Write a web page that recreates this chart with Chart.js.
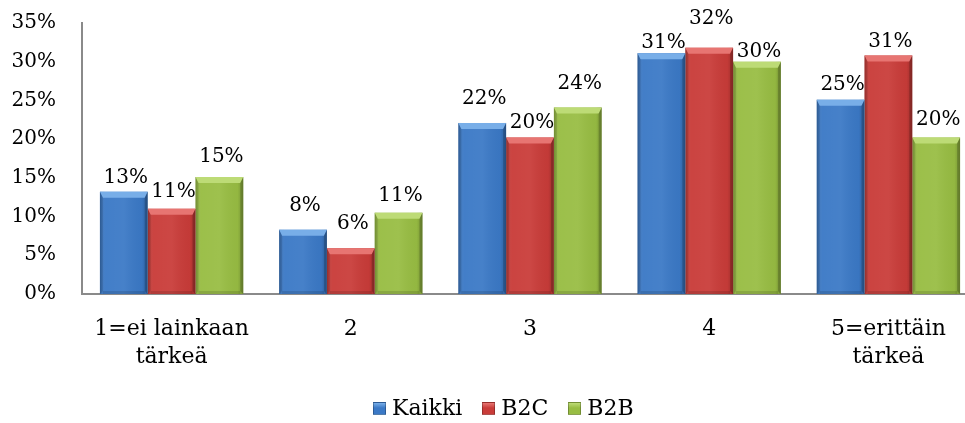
<!DOCTYPE html>
<html>
<head>
<meta charset="utf-8">
<script src="https://cdn.jsdelivr.net/npm/chart.js@4.4.1/dist/chart.umd.min.js"></script>
<style>
  html, body { margin: 0; padding: 0; background: #fff; }
  #wrap { position: relative; width: 965px; height: 423px; overflow: hidden; }
  #chart { position: absolute; left: 0; top: 0; }
  #legend {
    position: absolute; left: 373px; top: 396px;
    display: flex; align-items: center;
    font-family: 'DejaVu Serif', serif; font-size: 22px; line-height: 24px; color: #000;
  }
  #legend .item { display: flex; align-items: center; margin-right: 20px; }
  #legend .box { width: 13px; height: 13px; margin-right: 6px; box-sizing: border-box; }
</style>
</head>
<body>
<div id="wrap">
  <canvas id="chart" width="980" height="423"></canvas>
  <div id="legend"></div>
</div>
<script>
// kategoriat ja arvot (%), luettu kuvasta
const categories = [['1=ei lainkaan', 'tärkeä'], '2', '3', '4', ['5=erittäin', 'tärkeä']];
const seriesNames = ['Kaikki', 'B2C', 'B2B'];
const kaikki = [13.2, 8.3, 22.1, 31.1, 25.1];
const b2c = [11.0, 5.9, 20.2, 31.8, 30.8];
const b2b = [15.1, 10.5, 24.1, 30.0, 20.2];
const yTicks = [0, 5, 10, 15, 20, 25, 30, 35];

const colors = ['#3b79c6', '#c93c39', '#98bd43'];
const topColors = ['#78aee8', '#e77572', '#bddb76'];

// etäisyys palkin yläreunasta tekstin pohjaan (kuten alkuperäisessä)
const labelGaps = [
  [9, 19, 19, 5, 10],
  [12, 19, 10, 24, 9],
  [15, 12, 18, 5, 13]
];

// viistetyt palkit
const bevelBars = {
  id: 'bevelBars',
  afterDatasetDraw(chart, args) {
    const ctx = chart.ctx;
    const di = args.index;
    args.meta.data.forEach(bar => {
      const p = bar.getProps(['x', 'y', 'base', 'width'], true);
      const l = p.x - p.width / 2, r = p.x + p.width / 2, t = p.y, bt = p.base;
      const b = 6, s = 3;
      ctx.save();
      // vaakasuora sävytys
      const g = ctx.createLinearGradient(l, 0, r, 0);
      g.addColorStop(0, 'rgba(0,0,0,0.18)');
      g.addColorStop(0.12, 'rgba(255,255,255,0.04)');
      g.addColorStop(0.5, 'rgba(255,255,255,0.06)');
      g.addColorStop(0.88, 'rgba(0,0,0,0.03)');
      g.addColorStop(1, 'rgba(0,0,0,0.22)');
      ctx.fillStyle = g;
      ctx.fillRect(l, t, r - l, bt - t);
      // yläviiste
      ctx.fillStyle = topColors[di];
      ctx.beginPath();
      ctx.moveTo(l, t); ctx.lineTo(r, t); ctx.lineTo(r - s, t + b); ctx.lineTo(l + s, t + b);
      ctx.closePath(); ctx.fill();
      // sivut
      ctx.fillStyle = 'rgba(0,0,0,0.1)';
      ctx.beginPath();
      ctx.moveTo(l, t); ctx.lineTo(l + s, t + b); ctx.lineTo(l + s, bt - 3); ctx.lineTo(l, bt);
      ctx.closePath(); ctx.fill();
      ctx.fillStyle = 'rgba(0,0,0,0.18)';
      ctx.beginPath();
      ctx.moveTo(r, t); ctx.lineTo(r - s, t + b); ctx.lineTo(r - s, bt - 3); ctx.lineTo(r, bt);
      ctx.closePath(); ctx.fill();
      // alaosa
      ctx.fillStyle = 'rgba(0,0,0,0.12)';
      ctx.fillRect(l + s, bt - 3, r - l - 2 * s, 3);
      ctx.restore();
    });
  }
};

// prosenttiarvot palkkien päälle
const valueLabels = {
  id: 'valueLabels',
  afterDatasetsDraw(chart) {
    const ctx = chart.ctx;
    ctx.save();
    ctx.font = '20px "DejaVu Serif"';
    ctx.fillStyle = '#000';
    ctx.textAlign = 'center';
    ctx.textBaseline = 'alphabetic';
    chart.data.datasets.forEach((ds, di) => {
      chart.getDatasetMeta(di).data.forEach((bar, i) => {
        const p = bar.getProps(['x', 'y'], true);
        ctx.fillText(Math.round(ds.data[i]) + '%', p.x + 2, p.y - labelGaps[di][i]);
      });
    });
    ctx.restore();
  }
};

const seriesData = [kaikki, b2c, b2b];

new Chart(document.getElementById('chart'), {
  type: 'bar',
  data: {
    labels: categories,
    datasets: seriesNames.map((name, i) => ({
      label: name,
      data: seriesData[i],
      backgroundColor: colors[i],
      borderWidth: 0,
      barPercentage: 1.0,
      categoryPercentage: 0.8
    }))
  },
  options: {
    responsive: false,
    animation: false,
    devicePixelRatio: 1,
    layout: { padding: { left: 12, right: 2, top: 23, bottom: 0 } },
    plugins: {
      legend: { display: false },
      tooltip: { enabled: false }
    },
    scales: {
      x: {
        grid: { display: false, drawTicks: false },
        border: { display: true, color: '#8a8a8a', width: 2 },
        ticks: {
          color: '#000',
          font: { family: 'DejaVu Serif', size: 22, lineHeight: 1.27 },
          padding: 21,
          maxRotation: 0,
          autoSkip: false
        },
        afterFit(scale) {
          scale.height = 129;
          scale.paddingLeft = 0;
          scale.paddingRight = 0;
        }
      },
      y: {
        min: 0,
        max: 35,
        grid: { display: false, drawTicks: false },
        border: { display: true, color: '#8a8a8a', width: 2 },
        afterBuildTicks(scale) { scale.ticks = yTicks.map(v => ({ value: v })); },
        afterFit(scale) {
          scale.width = 70;
          scale.paddingTop = 0;
          scale.paddingBottom = 0;
        },
        ticks: {
          color: '#000',
          font: { family: 'DejaVu Serif', size: 20 },
          padding: 26,
          callback: v => v + '%'
        }
      }
    }
  },
  plugins: [bevelBars, valueLabels]
});

// selite
const legend = document.getElementById('legend');
seriesNames.forEach((name, i) => {
  const item = document.createElement('div');
  item.className = 'item';
  const box = document.createElement('span');
  box.className = 'box';
  box.style.background = `linear-gradient(180deg, ${topColors[i]} 0%, ${colors[i]} 45%, ${colors[i]} 100%)`;
  box.style.border = '1px solid rgba(0,0,0,0.25)';
  const txt = document.createElement('span');
  txt.textContent = name;
  item.appendChild(box);
  item.appendChild(txt);
  legend.appendChild(item);
});
</script>
</body>
</html>
